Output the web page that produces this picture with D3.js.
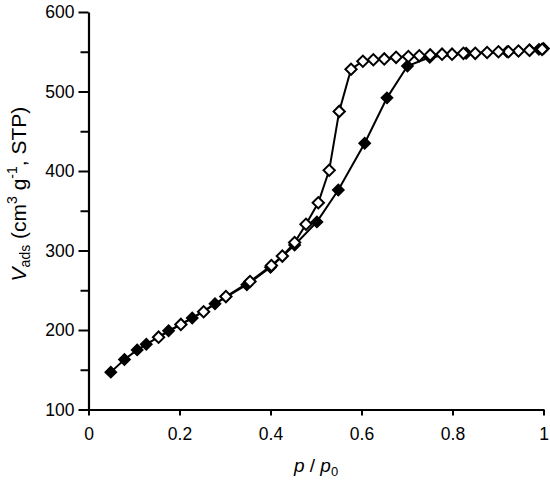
<!DOCTYPE html>
<html>
<head>
<meta charset="utf-8">
<script src="https://cdn.jsdelivr.net/npm/d3@7"></script>
<style>
  body { margin: 0; background: #fff; }
  svg { display: block; font-family: "Liberation Sans", Arial, sans-serif; }
</style>
</head>
<body>
<svg id="chart" width="550" height="480"></svg>
<script>
// Adsorption branch (filled diamonds): relative pressure p/p0
const adsP = [0.049, 0.079, 0.107, 0.127, 0.176, 0.228, 0.278, 0.348, 0.400, 0.453, 0.502, 0.549, 0.607, 0.656, 0.701, 0.750, 0.830, 0.920, 0.970, 0.990, 1.000];
// Adsorbed volume (cm3 g-1, STP)
const adsV = [147, 163, 175, 182, 199, 215, 233, 257, 279, 307, 336, 376, 435, 492, 532, 543, 548, 550, 552, 553, 554];

// Desorption branch (open diamonds)
const desP = [0.997, 0.969, 0.945, 0.923, 0.901, 0.876, 0.850, 0.824, 0.799, 0.777, 0.751, 0.727, 0.703, 0.676, 0.650, 0.626, 0.603, 0.577, 0.551, 0.529, 0.505, 0.478, 0.453, 0.426, 0.402, 0.355, 0.302, 0.253, 0.203, 0.154];
const desV = [553, 552, 551, 550, 550, 549, 548, 548, 547, 547, 546, 545, 544, 543, 541, 540, 538, 528, 475, 401, 360, 333, 310, 293, 281, 261, 242, 223, 207, 191];

const xTicks = [0, 0.2, 0.4, 0.6, 0.8, 1];
const xTickLabels = ["0", "0.2", "0.4", "0.6", "0.8", "1"];
const yTicks = [100, 200, 300, 400, 500, 600];
const yMinorTicks = [150, 250, 350, 450, 550];

const svg = d3.select("#chart");
const x = d3.scaleLinear().domain([0, 1]).range([88.5, 543.5]);
const y = d3.scaleLinear().domain([100, 600]).range([409.5, 12]);

const ads = adsP.map((p, i) => ({p, v: adsV[i]}));
const des = desP.map((p, i) => ({p, v: desV[i]}));

// axes
svg.append("g").attr("transform", `translate(0,${y(100)})`)
  .call(d3.axisBottom(x).tickValues(xTicks).tickFormat((d, i) => xTickLabels[i]).tickSize(6).tickSizeOuter(0).tickPadding(12));
svg.append("g").attr("transform", `translate(${x(0)},0)`)
  .call(d3.axisLeft(y).tickValues(yTicks).tickFormat(d3.format("d")).tickSize(10).tickSizeOuter(0).tickPadding(4));
svg.append("g").attr("transform", `translate(${x(0)},0)`)
  .call(d3.axisLeft(y).tickValues(yMinorTicks).tickFormat("").tickSize(8).tickSizeOuter(0))
  .select(".domain").remove();

svg.selectAll(".domain").attr("stroke", "#000").attr("stroke-width", 2.2);
svg.selectAll(".tick line").attr("stroke", "#000").attr("stroke-width", 2);
svg.selectAll(".tick text").attr("font-size", 17.5).attr("fill", "#000")
  .attr("font-family", "'Liberation Sans', Arial, sans-serif");

// lines
const line = d3.line().x(d => x(d.p)).y(d => y(d.v));
svg.append("path").datum(ads).attr("d", line).attr("fill", "none").attr("stroke", "#000").attr("stroke-width", 2);
svg.append("path").datum(des).attr("d", line).attr("fill", "none").attr("stroke", "#000").attr("stroke-width", 2);

const sym = d3.symbol().type(d3.symbolSquare).size(64);
svg.append("g").selectAll("path").data(ads).join("path")
  .attr("d", sym)
  .attr("transform", d => `translate(${x(d.p)},${y(d.v)}) rotate(45)`)
  .attr("fill", "#000").attr("stroke", "#000").attr("stroke-width", 1.5);
svg.append("g").selectAll("path").data(des).join("path")
  .attr("d", sym)
  .attr("transform", d => `translate(${x(d.p)},${y(d.v)}) rotate(45)`)
  .attr("fill", "#fff").attr("stroke", "#000").attr("stroke-width", 2);

// x title
const xt = svg.append("text").attr("x", (x(0) + x(1)) / 2).attr("y", 472)
  .attr("text-anchor", "middle").attr("font-size", 19).attr("fill", "#000");
xt.append("tspan").attr("font-style", "italic").text("p");
xt.append("tspan").text(" / ");
xt.append("tspan").attr("font-style", "italic").text("p");
xt.append("tspan").attr("font-size", 13).attr("dy", 4).text("0");

// y title
const yt = svg.append("text").attr("transform", `translate(26,${y(371)}) rotate(-90)`)
  .attr("text-anchor", "middle").attr("font-size", 21).attr("fill", "#000");
yt.append("tspan").attr("font-style", "italic").text("V");
yt.append("tspan").attr("font-size", 14).attr("dy", 4).text("ads");
yt.append("tspan").attr("dy", -4).text(" (cm");
yt.append("tspan").attr("font-size", 14).attr("dy", -9).text("3");
yt.append("tspan").attr("dy", 9).text(" g");
yt.append("tspan").attr("font-size", 14).attr("dy", -9).text("-1");
yt.append("tspan").attr("dy", 9).text(", STP)");
</script>
</body>
</html>
